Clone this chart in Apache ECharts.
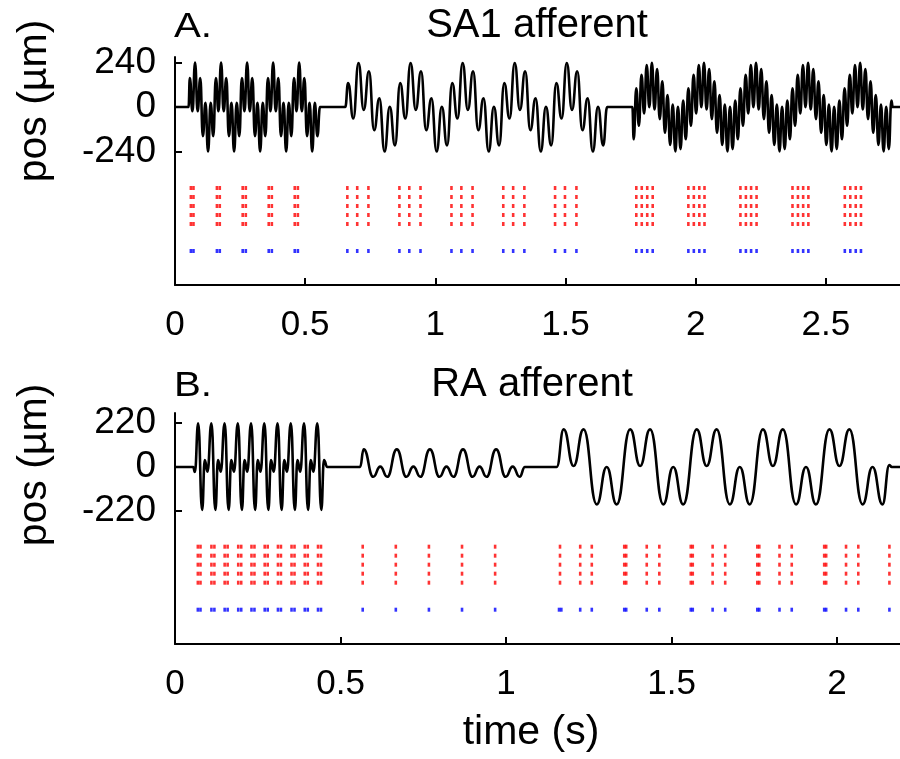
<!DOCTYPE html>
<html><head><meta charset="utf-8">
<script src="https://cdn.jsdelivr.net/npm/echarts@6/dist/echarts.min.js"></script>
<style>html,body{margin:0;padding:0;background:#fff}#c{width:900px;height:759px}</style>
</head><body><div id="c"></div>
<script>
// ---------- Panel A (SA1 afferent): stimulus position, [time s, µm] at read extrema ----------
const waveA1 = [
[0,0],[0.052,0],
[0.057,157],[0.067,-23],[0.077,240],[0.087,-23],[0.097,157],[0.107,-157],[0.117,23],[0.127,-240],[0.137,23],[0.147,-157],
[0.157,157],[0.167,-23],[0.177,240],[0.187,-23],[0.197,157],[0.207,-157],[0.217,23],[0.227,-240],[0.237,23],[0.247,-157],
[0.257,157],[0.267,-23],[0.277,240],[0.287,-23],[0.297,157],[0.307,-157],[0.317,23],[0.327,-240],[0.337,23],[0.347,-157],
[0.357,157],[0.367,-23],[0.377,240],[0.387,-23],[0.397,157],[0.407,-157],[0.417,23],[0.427,-240],[0.437,23],[0.447,-157],
[0.457,157],[0.467,-23],[0.477,240],[0.487,-23],[0.497,157],[0.507,-157],[0.517,23],[0.527,-240],[0.537,23],[0.547,-157],
[0.557,0]
];
const waveA2 = [
[0.654,0],
[0.665,129],[0.685,-62],[0.705,238],[0.725,-16],[0.745,193],[0.765,-125],[0.785,47],[0.805,-240],[0.825,2],[0.845,-207],
[0.865,129],[0.885,-62],[0.905,238],[0.925,-16],[0.945,193],[0.965,-125],[0.985,47],[1.005,-240],[1.025,2],[1.045,-207],
[1.065,129],[1.085,-62],[1.105,238],[1.125,-16],[1.145,193],[1.165,-125],[1.185,47],[1.205,-240],[1.225,2],[1.245,-207],
[1.265,129],[1.285,-62],[1.305,238],[1.325,-16],[1.345,193],[1.365,-125],[1.385,47],[1.405,-240],[1.425,2],[1.445,-207],
[1.465,129],[1.485,-62],[1.505,238],[1.525,-16],[1.545,193],[1.565,-125],[1.585,47],[1.605,-240],[1.625,2],[1.645,-207],
[1.660,0]
];
const waveA3 = [
[1.757,0],
[1.762,-174],[1.772,101],[1.782,-101],[1.792,174],[1.802,-35],[1.812,227],[1.822,-1],[1.832,239],[1.842,-13],[1.852,205],
[1.862,-65],[1.872,139],[1.882,-139],[1.892,65],[1.902,-205],[1.912,13],[1.922,-239],[1.932,1],[1.942,-227],[1.952,35],
[1.962,-174],[1.972,101],[1.982,-101],[1.992,174],[2.002,-35],[2.012,227],[2.022,-1],[2.032,239],[2.042,-13],[2.052,205],
[2.062,-65],[2.072,139],[2.082,-139],[2.092,65],[2.102,-205],[2.112,13],[2.122,-239],[2.132,1],[2.142,-227],[2.152,35],
[2.162,-174],[2.172,101],[2.182,-101],[2.192,174],[2.202,-35],[2.212,227],[2.222,-1],[2.232,239],[2.242,-13],[2.252,205],
[2.262,-65],[2.272,139],[2.282,-139],[2.292,65],[2.302,-205],[2.312,13],[2.322,-239],[2.332,1],[2.342,-227],[2.352,35],
[2.362,-174],[2.372,101],[2.382,-101],[2.392,174],[2.402,-35],[2.412,227],[2.422,-1],[2.432,239],[2.442,-13],[2.452,205],
[2.462,-65],[2.472,139],[2.482,-139],[2.492,65],[2.502,-205],[2.512,13],[2.522,-239],[2.532,1],[2.542,-227],[2.552,35],
[2.562,-174],[2.572,101],[2.582,-101],[2.592,174],[2.602,-35],[2.612,227],[2.622,-1],[2.632,239],[2.642,-13],[2.652,205],
[2.662,-65],[2.672,139],[2.682,-139],[2.692,65],[2.702,-205],[2.712,13],[2.722,-239],[2.732,1],[2.742,-227],[2.752,35],
[2.757,0],[2.785,0]
];
// spike times (s): red = model trials, blue = recorded afferent
const redSpikesA = [0.061,0.071,0.161,0.172,0.260,0.272,0.360,0.372,0.460,0.472,
0.662,0.700,0.743,0.862,0.900,0.943,1.062,1.100,1.143,1.261,1.299,1.342,1.460,1.498,1.542,
1.772,1.793,1.814,1.835,1.972,1.993,2.014,2.034,2.172,2.193,2.213,2.234,2.372,2.393,2.413,2.433,2.573,2.594,2.615,2.635];
const blueSpikesA = [0.061,0.071,0.161,0.172,0.260,0.272,0.360,0.372,0.460,0.472,
0.662,0.700,0.743,0.862,0.900,0.943,1.062,1.100,1.143,1.261,1.299,1.342,1.460,1.498,1.542,
1.772,1.793,1.814,1.835,1.972,1.993,2.014,2.034,2.172,2.193,2.213,2.234,2.372,2.393,2.413,2.433,2.573,2.594,2.615,2.635];

// ---------- Panel B (RA afferent) ----------
const waveB1 = [
[0,0],[0.055,0],[0.060,-25],
[0.070,218],[0.082,-215],[0.090,35],[0.098,-23],
[0.110,218],[0.122,-215],[0.130,35],[0.138,-23],
[0.150,218],[0.162,-215],[0.170,35],[0.178,-23],
[0.190,218],[0.202,-215],[0.210,35],[0.218,-23],
[0.230,218],[0.242,-215],[0.250,35],[0.258,-23],
[0.270,218],[0.282,-215],[0.290,35],[0.298,-23],
[0.310,218],[0.322,-215],[0.330,35],[0.338,-23],
[0.350,218],[0.362,-215],[0.370,35],[0.378,-23],
[0.390,218],[0.402,-215],[0.410,35],[0.418,-23],
[0.430,218],[0.442,-215],[0.450,35],
[0.460,0]
];
const waveB2 = [
[0.559,0],
[0.570,88],[0.599,-49],[0.620,2],[0.641,-49],
[0.670,88],[0.699,-49],[0.720,2],[0.741,-49],
[0.770,88],[0.799,-49],[0.820,2],[0.841,-49],
[0.870,88],[0.899,-49],[0.920,2],[0.941,-49],
[0.970,88],[0.999,-49],[1.020,2],[1.041,-49],
[1.057,0]
];
const waveB3 = [
[1.153,0],
[1.174,188],[1.204,5],[1.234,188],[1.274,-187],[1.304,0],[1.334,-187],
[1.375,188],[1.405,5],[1.435,188],[1.475,-187],[1.505,0],[1.535,-187],
[1.576,188],[1.606,5],[1.636,188],[1.676,-187],[1.706,0],[1.736,-187],
[1.776,188],[1.806,5],[1.836,188],[1.876,-187],[1.906,0],[1.936,-187],
[1.977,188],[2.007,5],[2.037,188],[2.077,-187],[2.107,0],[2.137,-187],
[2.158,10],[2.165,0],[2.190,0]
];
const redSpikesB = [0.069,0.077,0.110,0.119,0.150,0.159,0.191,0.200,0.231,0.240,0.271,0.280,0.311,0.320,0.352,0.361,0.392,0.401,0.432,0.441,
0.567,0.667,0.767,0.867,0.967,
1.163,1.224,1.259,1.357,1.363,1.425,1.463,1.558,1.564,1.624,1.662,1.759,1.765,1.826,1.863,1.961,1.967,2.027,2.064,2.158];
const blueSpikesB = [0.069,0.077,0.110,0.119,0.150,0.159,0.191,0.200,0.231,0.240,0.271,0.280,0.311,0.320,0.352,0.361,0.392,0.401,0.432,0.441,
0.567,0.667,0.767,0.867,0.967,
1.160,1.167,1.224,1.259,1.357,1.363,1.425,1.463,1.558,1.564,1.624,1.662,1.759,1.765,1.826,1.863,1.961,1.967,2.027,2.064,2.158];

const redTrials = [1,2,3,4,5];
const blueRow = 8;
const xTicksA = [0,0.5,1,1.5,2,2.5];
const xTicksB = [0,0.5,1,1.5,2];
const yTicksA = [-240,0,240];
const yTicksB = [-220,0,220];

// ---------- chart ----------
const FONT = '"Liberation Sans", Arial, Helvetica, sans-serif';
const BLACK = '#000';
function xAx(gi, max, ticks){
  return {gridIndex:gi,type:'value',min:0,max:max,
    axisLine:{onZero:false,lineStyle:{color:BLACK,width:2}},
    axisTick:{inside:true,length:7,customValues:ticks,lineStyle:{color:BLACK,width:2}},
    axisLabel:{customValues:ticks,color:BLACK,fontSize:35,fontFamily:FONT,margin:23},
    splitLine:{show:false}};
}
function yAx(gi, min, max, ticks){
  return {gridIndex:gi,type:'value',min:min,max:max,
    axisLine:{onZero:false,lineStyle:{color:BLACK,width:2}},
    axisTick:{inside:true,length:7,customValues:ticks,lineStyle:{color:BLACK,width:2}},
    axisLabel:{customValues:ticks,color:BLACK,fontSize:37,fontFamily:FONT,margin:19},
    splitLine:{show:false}};
}
function rasterAx(gi, min, max){
  return {gridIndex:gi,type:'value',inverse:true,min:min,max:max,show:false,splitLine:{show:false}};
}
function wave(xi, yi, data){
  return {type:'line',xAxisIndex:xi,yAxisIndex:yi,data:data,smooth:0.5,smoothMonotone:'x',
    showSymbol:false,lineStyle:{color:BLACK,width:2.6},silent:true,animation:false};
}
function raster(xi, yi, times, rows, color){
  const d = [];
  rows.forEach(r => times.forEach(t => d.push([t, r])));
  return {type:'scatter',xAxisIndex:xi,yAxisIndex:yi,data:d,symbol:'rect',symbolSize:[2.6,4],
    itemStyle:{color:color},silent:true,animation:false};
}
function txt(x, y, s, size, rot, align, sx){
  return {type:'text',x:x,y:y,rotation:rot||0,scaleX:sx||1,silent:true,
    style:{text:s,fill:BLACK,font:size+'px '+FONT,textAlign:align||'center',textVerticalAlign:'middle'}};
}

const chart = echarts.init(document.getElementById('c'), null, {renderer:'canvas'});
chart.setOption({
  backgroundColor:'#fff',
  animation:false,
  grid:[
    {left:175,top:57,right:0,height:228},
    {left:175,top:413,right:0,height:231}
  ],
  xAxis:[xAx(0,2.785,xTicksA), xAx(1,2.19,xTicksB)],
  yAxis:[yAx(0,-960,270,yTicksA), rasterAx(0,-13.56,11.78), yAx(1,-885,270,yTicksB), rasterAx(1,-13.85,11.81)],
  series:[
    wave(0,0,waveA1.concat(waveA2,waveA3)),
    raster(0,1,redSpikesA,redTrials,'#ff0000'),
    raster(0,1,blueSpikesA,[blueRow],'#0000ff'),
    wave(1,2,waveB1.concat(waveB2,waveB3)),
    raster(1,3,redSpikesB,redTrials,'#ff0000'),
    raster(1,3,blueSpikesB,[blueRow],'#0000ff')
  ],
  graphic:[
    txt(174,27,'A.',35,0,'left',1.15),
    txt(537,26,'SA1 afferent',40),
    txt(174,386,'B.',35,0,'left',1.15),
    txt(532,385,'RA afferent',40),
    txt(35,101,'pos (µm)',41,Math.PI/2),
    txt(35,465,'pos (µm)',41,Math.PI/2),
    txt(531,733,'time (s)',41)
  ]
});
</script></body></html>
